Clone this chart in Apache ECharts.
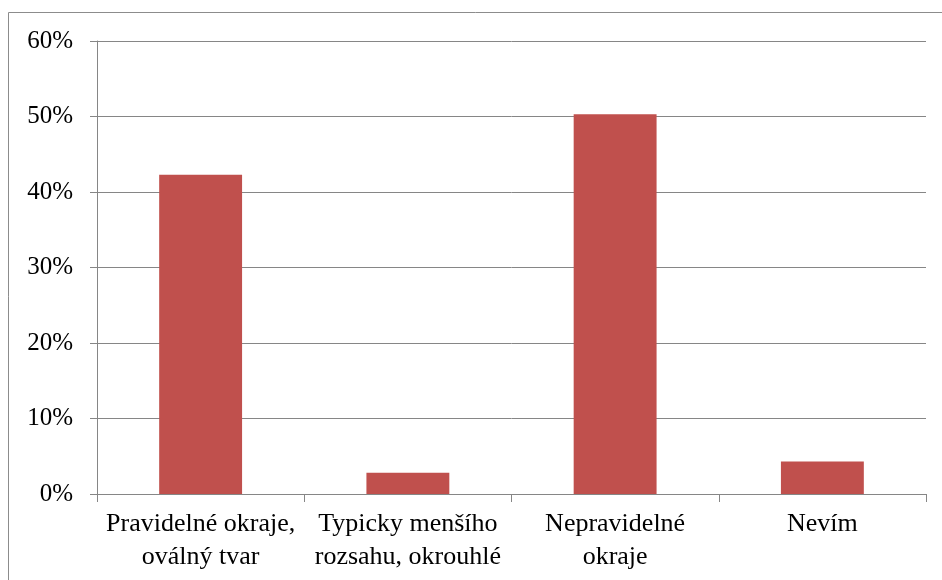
<!DOCTYPE html>
<html>
<head>
<meta charset="utf-8">
<script src="https://cdn.jsdelivr.net/npm/echarts@6/dist/echarts.min.js"></script>
<style>
html,body{margin:0;padding:0;background:#fff;}
#c{width:942px;height:580px;}
</style>
</head>
<body>
<div id="c"></div>
<script>
const categories = ['Pravidelné okraje,\noválný tvar', 'Typicky menšího\nrozsahu, okrouhlé', 'Nepravidelné\nokraje', 'Nevím'];
const values = [42.3, 2.8, 50.3, 4.3];
const yTicks = [0, 10, 20, 30, 40, 50, 60];

const chart = echarts.init(document.getElementById('c'));
const font = '"Liberation Serif", "Times New Roman", serif';
chart.setOption({
  animation: false,
  graphic: [{
    type: 'rect',
    shape: { x: 8.5, y: 12.5, width: 1000, height: 1000 },
    style: { fill: 'none', stroke: '#8c8c8c', lineWidth: 1 },
    silent: true
  }],
  grid: { left: 97, right: 16, top: 41, bottom: 86 },
  xAxis: {
    type: 'category',
    data: categories,
    axisLine: { lineStyle: { color: '#868686', width: 1 } },
    axisTick: { show: true, length: 8, alignWithLabel: false, lineStyle: { color: '#868686' } },
    axisLabel: {
      interval: 0,
      color: '#000',
      fontFamily: font,
      fontSize: 26,
      lineHeight: 33,
      margin: 14
    }
  },
  yAxis: {
    type: 'value',
    min: yTicks[0],
    max: yTicks[yTicks.length - 1],
    interval: 10,
    axisLine: { show: true, lineStyle: { color: '#868686', width: 1 } },
    axisTick: { show: true, length: 7, lineStyle: { color: '#868686' } },
    splitLine: { show: true, lineStyle: { color: '#868686', width: 1 } },
    axisLabel: {
      color: '#000',
      fontFamily: font,
      fontSize: 25,
      margin: 24,
      formatter: v => v + '%'
    }
  },
  series: [{
    type: 'bar',
    data: values,
    barWidth: '40%',
    itemStyle: { color: '#C0504D' }
  }]
});
</script>
</body>
</html>
